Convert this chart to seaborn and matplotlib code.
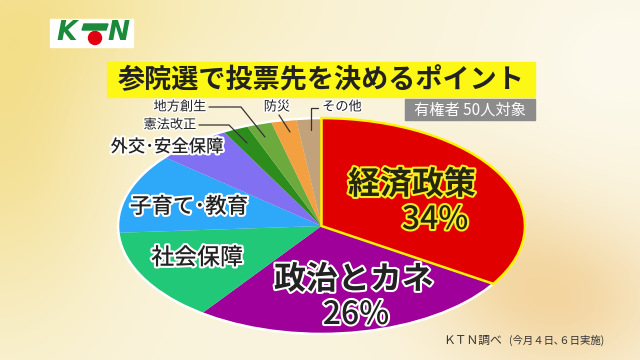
import numpy as np
import matplotlib
matplotlib.use("Agg")
import matplotlib.pyplot as plt
import matplotlib.patheffects as pe
from matplotlib.patches import Rectangle, Ellipse, Circle, Polygon
import seaborn as sns

# survey of 50 voters: share (%) per deciding issue
categories = ["経済政策", "政治とカネ", "社会保障", "子育て･教育", "外交･安全保障",
              "憲法改正", "地方創生", "防災", "その他"]
shares = [34, 26, 14, 12, 6, 2, 2, 2, 2]
colors = ["#e10000", "#a0009a", "#20c878", "#2ea8f8", "#8270f2",
          "#2c8c1c", "#6caa3e", "#f2a040", "#c2a27a"]
title = "参院選で投票先を決めるポイント"
sample_note = "有権者 50人対象"
source_main = "ＫＴＮ調べ"
source_sub = "(今月４日､６日実施)"

sns.set_theme(style="white")
plt.rcParams["font.family"] = ["Noto Sans CJK JP", "DejaVu Sans"]

W, H = 640, 360
fig = plt.figure(figsize=(6.4, 3.6), dpi=100)


def fx(x):
    return x / W


def fy(y):
    return 1 - y / H


# background: soft cream with warm blobs
bg = fig.add_axes([0, 0, 1, 1], zorder=0)
yy, xx = np.mgrid[0:H, 0:W]
base = np.array([250, 244, 222], dtype=float)
img = np.ones((H, W, 3)) * base


def blob(cx, cy, sx, sy, col, k):
    g = np.exp(-(((xx - cx) / sx) ** 2 + ((yy - cy) / sy) ** 2))[..., None]
    return g * k * (np.array(col, dtype=float) - base)


img += blob(0, 120, 120, 200, [243, 222, 140], 0.9)
img += blob(120, 0, 200, 90, [246, 230, 160], 0.6)
img += blob(560, 300, 110, 80, [242, 208, 150], 0.8)
img += blob(470, 230, 90, 70, [245, 222, 170], 0.6)
img += blob(620, 60, 120, 100, [253, 250, 240], 0.8)
bg.imshow(np.clip(img, 0, 255).astype(np.uint8), extent=[0, W, H, 0], aspect="auto")
bg.set_xlim(0, W)
bg.set_ylim(H, 0)
bg.axis("off")

# logo
bg.add_patch(Rectangle((50, 19), 83, 28, color="white", zorder=2))
bg.text(67, 33, "K", color="#1b8a3a", fontsize=19, fontweight="heavy", style="italic",
        ha="center", va="center", family="DejaVu Sans", zorder=3)
bg.add_patch(Polygon([(84, 24), (108, 24), (106, 30), (82, 30)], color="#1b8a3a", zorder=3))
bg.add_patch(Circle((95, 38), 6.5, color="#e00010", zorder=3))
bg.text(118, 33, "N", color="#1b8a3a", fontsize=19, fontweight="heavy", style="italic",
        ha="center", va="center", family="DejaVu Sans", zorder=3)

# title banner
bg.add_patch(Rectangle((107, 62), 428, 35, color="#fdf716", zorder=2))
bg.text(321, 80, title, fontsize=19.5, fontweight="bold", color="#222222",
        ha="center", va="center", zorder=3)

# sample note
bg.add_patch(Rectangle((405, 99), 130, 21, color="#8c8c8c", zorder=2))
bg.text(470, 110, sample_note, fontsize=11, color="white", ha="center", va="center", zorder=3)

# pie stretched into an ellipse
left, right, top, bottom = 116, 527, 117, 335
ax = fig.add_axes([fx(left), fy(bottom), fx(right - left), (bottom - top) / H], zorder=1)
wedges, _ = ax.pie(shares, colors=colors, startangle=90, counterclock=False,
                   wedgeprops=dict(linewidth=0))
wedges[0].set_edgecolor("#fff200")
wedges[0].set_linewidth(1.8)
wedges[0].set_zorder(3)
ax.add_patch(Ellipse((0, 0), 2.0, 2.0, facecolor="none", edgecolor="white", linewidth=1.8, zorder=2))
ax.set_aspect("auto")
ax.set_xlim(-1.01, 1.01)
ax.set_ylim(-1.01, 1.01)
ax.axis("off")

# labels over the chart
ov = fig.add_axes([0, 0, 1, 1], zorder=5)
ov.set_xlim(0, W)
ov.set_ylim(H, 0)
ov.axis("off")

white_edge = [pe.withStroke(linewidth=3, foreground="white")]
yellow_edge = [pe.withStroke(linewidth=3, foreground="#f8ef20")]

big = [(categories[0], 412, 185, yellow_edge, "bold"),
       (f"{shares[0]}%", 435, 220, yellow_edge, "medium"),
       (categories[1], 354, 280, white_edge, "bold"),
       (f"{shares[1]}%", 356, 315, white_edge, "medium")]
for txt, x, y, eff, wt in big:
    ov.text(x, y, txt, fontsize=23, fontweight=wt, color="#262610" if eff is yellow_edge else "#222222",
            ha="center", va="center", path_effects=eff)

mid = [(categories[2], 197, 258, 16.5), (categories[3], 189, 207, 15.5), (categories[4], 167, 147, 12.5)]
for txt, x, y, fs in mid:
    ov.text(x, y, txt, fontsize=fs, fontweight="medium", color="#222222",
            ha="center", va="center", path_effects=white_edge)

small = [(categories[6], 180, 107), (categories[5], 170, 125), (categories[7], 277, 107), (categories[8], 342, 107)]
for txt, x, y in small:
    ov.text(x, y, txt, fontsize=9.5, color="#222222", ha="center", va="center",
            path_effects=[pe.withStroke(linewidth=2, foreground="white")])

leaders = [[(209, 107), (241, 107), (265, 137)],
           [(199, 125), (229, 125), (247, 143)],
           [(279, 115), (290, 132)],
           [(318, 108), (311, 108), (311, 130)]]
for pts in leaders:
    xs, ys = zip(*pts)
    ov.plot(xs, ys, color="#333333", linewidth=0.9)

ov.text(443, 340, source_main, fontsize=8.5, color="#333333", ha="left", va="center")
ov.text(604, 340, source_sub, fontsize=7.5, color="#333333", ha="right", va="center")

fig.savefig("out.png", dpi=100)
